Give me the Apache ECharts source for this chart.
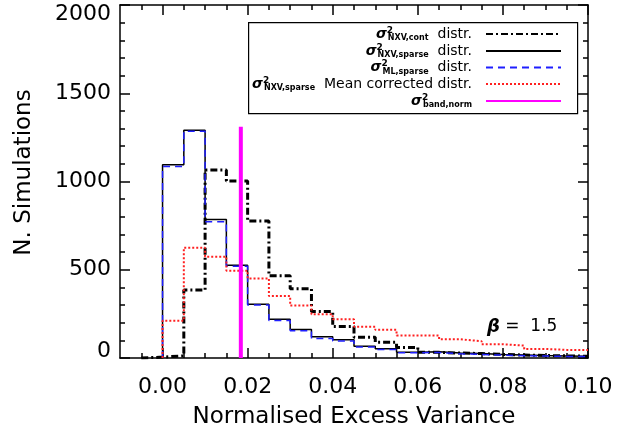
<!DOCTYPE html>
<html>
<head>
<meta charset="utf-8">
<script src="https://cdn.jsdelivr.net/npm/echarts@6/dist/echarts.min.js"></script>
<style>
  html, body { margin: 0; padding: 0; background: #fff; }
  #chart { width: 635px; height: 430px; }
</style>
</head>
<body>
<div id="chart"></div>
<script>
// left edges of the 0.005 wide bins
const binLeft = [-0.005, 0.000, 0.005, 0.010, 0.015, 0.020, 0.025, 0.030, 0.035, 0.040, 0.045,
                 0.050, 0.055, 0.060, 0.065, 0.070, 0.075, 0.080, 0.085, 0.090, 0.095];
const binEnd = 0.100;

const nxvCont   = [5, 12, 385, 1065, 1003, 776, 466, 392, 263, 178, 117, 89, 60, 32, 28, 25, 20, 17, 14, 12, 10];
const nxvSparse = [0, 1095, 1290, 785, 525, 305, 220, 162, 120, 104, 66, 52, 33, 36, 28, 25, 20, 17, 14, 12, 10];
const mlSparse  = [0, 1085, 1285, 772, 520, 300, 212, 155, 110, 96, 62, 48, 30, 31, 24, 20, 16, 13, 11, 9, 8];
const meanCorr  = [0, 211, 625, 574, 495, 451, 351, 297, 248, 219, 177, 160, 128, 127, 106, 95, 78, 70, 51, 46, 45];

const bandNorm = 0.0184;
const bandTop = 1310;

const xMajor = [0.00, 0.02, 0.04, 0.06, 0.08, 0.10];
const xMinor = [-0.005, 0.005, 0.010, 0.015, 0.025, 0.030, 0.035, 0.045, 0.050, 0.055,
                0.065, 0.070, 0.075, 0.085, 0.090, 0.095];

const FONT = 'DejaVu Sans';

// histogram outline: start on the baseline at the first non-empty bin
function steps(vals) {
  let first = vals.findIndex(v => v > 0);
  let pts = [[binLeft[first], 0]];
  for (let i = first; i < vals.length; i++) pts.push([binLeft[i], vals[i]]);
  pts.push([binEnd, vals[vals.length - 1]]);
  return pts;
}

const legendText = {
  cont:   '{s|σ}{p|2}{b|NXV,cont}{t|  distr.}{g| }',
  sparse: '{s|σ}{p|2}{b|NXV,sparse}{t|  distr.}{g| }',
  ml:     '{s|σ}{p|2}{b|ML,sparse}{t|  distr.}{g| }',
  mean:   '{s|σ}{p|2}{b|NXV,sparse}{t|  Mean corrected distr.}{g| }',
  band:   '{s|σ}{p|2}{b|band,norm}{g| }'
};
const rich = {
  s: { fontFamily: FONT, fontSize: 14, fontWeight: 'bold', fontStyle: 'italic', lineHeight: 16, align: 'left', color: '#000' },
  p: { fontFamily: FONT, fontSize: 9, fontWeight: 'bold', verticalAlign: 'top', width: 1, align: 'left', color: '#000' },
  b: { fontFamily: FONT, fontSize: 8, fontWeight: 'bold', verticalAlign: 'bottom', align: 'left', color: '#000' },
  t: { fontFamily: FONT, fontSize: 14, lineHeight: 16, align: 'left', color: '#000' },
  g: { fontSize: 14, width: 9, align: 'left' }
};
const legendRows = [['cont', 34], ['sparse', 51], ['ml', 67.5], ['mean', 84], ['band', 101]];

const legends = legendRows.map(r => ({
  data: [r[0]],
  orient: 'vertical',
  right: 73,
  top: r[1] - 8,
  align: 'right',
  padding: 0,
  itemWidth: 75,
  itemHeight: 10,
  selectedMode: false,
  itemStyle: { opacity: 0 },
  formatter: name => legendText[name],
  textStyle: { rich: rich }
}));

const tickLine = { color: '#000', width: 1.5 };

function xAx(pos, ticks, len, labels, line) {
  return {
    type: 'value', min: -0.01, max: 0.10, position: pos,
    axisLine: { show: line, onZero: false, lineStyle: tickLine },
    axisTick: { inside: true, length: len, customValues: ticks, lineStyle: tickLine },
    axisLabel: labels ? {
      customValues: xMajor, formatter: v => v.toFixed(2), margin: 18,
      fontFamily: FONT, fontSize: 22, color: '#000'
    } : { show: false },
    splitLine: { show: false }
  };
}

const xMain = xAx('bottom', xMajor, 10, true, true);
xMain.name = 'Normalised Excess Variance';
xMain.nameLocation = 'middle';
xMain.nameGap = 48;
xMain.nameTextStyle = { fontFamily: FONT, fontSize: 23, color: '#000' };

// end labels of the y axis sit inside the frame, as in the original plot
const yLabelRich = {
  n:  { fontFamily: FONT, fontSize: 22, color: '#000' },
  lo: { fontFamily: FONT, fontSize: 22, color: '#000', padding: [0, 0, 14, 0] },
  hi: { fontFamily: FONT, fontSize: 22, color: '#000', padding: [19, 0, 0, 0] }
};

function yAx(pos, labels) {
  return {
    type: 'value', min: 0, max: 2000, interval: 500, position: pos,
    axisLine: { show: true, onZero: false, lineStyle: tickLine },
    axisTick: { inside: true, length: 10, lineStyle: tickLine },
    minorTick: { show: true, splitNumber: 5, length: 5, lineStyle: { color: '#000', width: 1.5 } },
    axisLabel: labels ? {
      formatter: v => (v === 0 ? '{lo|0}' : v === 2000 ? '{hi|2000}' : '{n|' + v + '}'),
      margin: 9, rich: yLabelRich
    } : { show: false },
    splitLine: { show: false }
  };
}
const yMain = yAx('left', true);
yMain.name = 'N. Simulations';
yMain.nameLocation = 'middle';
yMain.nameGap = 84;
yMain.nameTextStyle = { fontFamily: FONT, fontSize: 23, color: '#000', padding: [0, 0, 0, 18] };

const chart = echarts.init(document.getElementById('chart'));
chart.setOption({
  animation: false,
  backgroundColor: '#fff',
  grid: { left: 120, right: 47, top: 5, bottom: 72, outerBoundsMode: 'none' },
  legend: legends,
  xAxis: [
    xMain,
    xAx('bottom', xMinor, 5, false, false),
    xAx('top', xMajor, 10, false, true),
    xAx('top', xMinor, 5, false, false)
  ],
  yAxis: [yMain, yAx('right', false)],
  graphic: [
    {
      type: 'rect', left: 248, top: 22, z: 0,
      shape: { width: 329, height: 91 },
      style: { fill: '#fff', stroke: '#000', lineWidth: 1.2 }
    },
    {
      type: 'text', left: 487, top: 318,
      style: {
        text: '{b|β}{t| =  1.5}',
        rich: {
          b: { fontFamily: FONT, fontSize: 18, fontWeight: 'bold', fontStyle: 'italic', fill: '#000' },
          t: { fontFamily: FONT, fontSize: 17, fill: '#000' }
        }
      }
    }
  ],
  series: [
    {
      name: 'cont', type: 'line', step: 'end', symbol: 'none', data: steps(nxvCont),
      color: '#000', lineStyle: { color: '#000', width: 3, type: [7, 3, 2, 3] }
    },
    {
      name: 'sparse', type: 'line', step: 'end', symbol: 'none', data: steps(nxvSparse),
      color: '#000', lineStyle: { color: '#000', width: 1.5 }
    },
    {
      name: 'ml', type: 'line', step: 'end', symbol: 'none', data: steps(mlSparse),
      color: '#1f1fff', lineStyle: { color: '#1f1fff', width: 1.5, type: [7, 5] }
    },
    {
      name: 'mean', type: 'line', step: 'end', symbol: 'none', data: steps(meanCorr),
      color: '#ff2020', lineStyle: { color: '#ff2020', width: 2, type: [2, 2] }
    },
    {
      name: 'band', type: 'line', symbol: 'none', data: [[bandNorm, 0], [bandNorm, bandTop]],
      color: '#ff00ff', lineStyle: { color: '#ff00ff', width: 4 }
    }
  ]
});
</script>
</body>
</html>
